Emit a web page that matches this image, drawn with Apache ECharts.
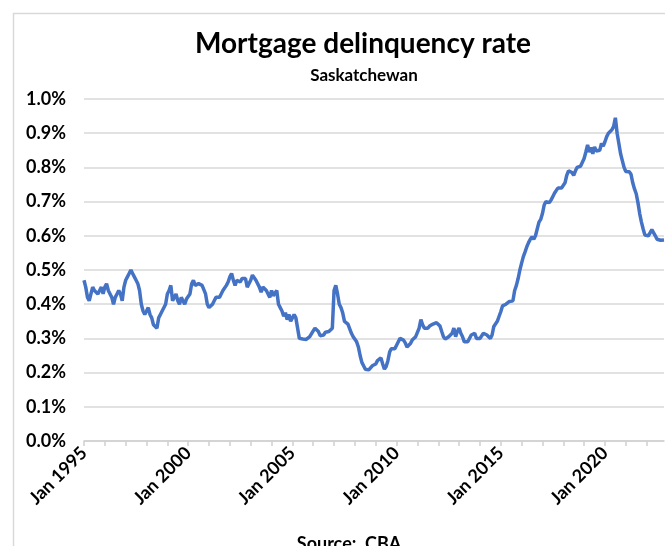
<!DOCTYPE html>
<html>
<head>
<meta charset="utf-8">
<script src="https://cdn.jsdelivr.net/npm/echarts@6/dist/echarts.min.js"></script>
<style>
  html, body { margin: 0; padding: 0; background: #fff; }
  #main { width: 665px; height: 546px; }
</style>
</head>
<body>
<div id="main"></div>
<script>
// 数据: 月度拖欠率 (%), 1995年1月起
const startYear = 1995
const monthNames = ['Jan', 'Feb', 'Mar', 'Apr', 'May', 'Jun', 'Jul', 'Aug', 'Sep', 'Oct', 'Nov', 'Dec']
const yTicks = [0, 0.1, 0.2, 0.3, 0.4, 0.5, 0.6, 0.7, 0.8, 0.9, 1.0]
const rates = [
  0.47, 0.45, 0.42, 0.41, 0.43, 0.45, 0.44, 0.44, 0.43, 0.44, 0.45, 0.43,       // 1995
  0.45, 0.46, 0.44, 0.43, 0.42, 0.40, 0.42, 0.43, 0.44, 0.43, 0.41, 0.45,       // 1996
  0.47, 0.48, 0.49, 0.50, 0.49, 0.48, 0.47, 0.46, 0.44, 0.40, 0.38, 0.37,       // 1997
  0.38, 0.39, 0.37, 0.36, 0.34, 0.335, 0.33, 0.36, 0.37, 0.38, 0.375, 0.40,     // 1998
  0.43, 0.44, 0.455, 0.41, 0.42, 0.43, 0.41, 0.40, 0.42, 0.41, 0.40, 0.415,     // 1999
  0.41, 0.43, 0.46, 0.47, 0.455, 0.46, 0.46, 0.455, 0.455, 0.45, 0.43, 0.40,    // 2000
  0.39, 0.39, 0.40, 0.41, 0.42, 0.415, 0.42, 0.43, 0.44, 0.445, 0.455, 0.465,   // 2001
  0.48, 0.49, 0.47, 0.455, 0.47, 0.475, 0.465, 0.475, 0.48, 0.475, 0.45, 0.455, // 2002
  0.47, 0.485, 0.48, 0.47, 0.465, 0.45, 0.435, 0.45, 0.455, 0.44, 0.43, 0.42,   // 2003
  0.44, 0.425, 0.43, 0.44, 0.40, 0.39, 0.38, 0.365, 0.375, 0.355, 0.37, 0.35,   // 2004
  0.36, 0.37, 0.36, 0.33, 0.30, 0.305, 0.298, 0.295, 0.297, 0.298, 0.305, 0.31, // 2005
  0.322, 0.33, 0.335, 0.32, 0.308, 0.31, 0.31, 0.318, 0.32, 0.32, 0.32, 0.33,   // 2006
  0.44, 0.455, 0.43, 0.40, 0.39, 0.374, 0.35, 0.345, 0.342, 0.34, 0.315, 0.305, // 2007
  0.303, 0.29, 0.275, 0.25, 0.23, 0.22, 0.21, 0.21, 0.208, 0.212, 0.22, 0.218,  // 2008
  0.225, 0.235, 0.24, 0.243, 0.225, 0.21, 0.218, 0.235, 0.26, 0.27, 0.275, 0.27, // 2009
  0.28, 0.29, 0.30, 0.305, 0.295, 0.287, 0.275, 0.27, 0.285, 0.295, 0.30, 0.305, // 2010
  0.31, 0.33, 0.355, 0.34, 0.33, 0.335, 0.33, 0.336, 0.34, 0.342, 0.346, 0.346, // 2011
  0.345, 0.336, 0.32, 0.305, 0.298, 0.294, 0.305, 0.31, 0.315, 0.33, 0.305, 0.32, // 2012
  0.33, 0.315, 0.305, 0.29, 0.288, 0.29, 0.295, 0.31, 0.315, 0.315, 0.30, 0.298, // 2013
  0.30, 0.305, 0.315, 0.31, 0.31, 0.305, 0.30, 0.31, 0.335, 0.34, 0.35, 0.364,  // 2014
  0.378, 0.395, 0.40, 0.40, 0.402, 0.408, 0.41, 0.41, 0.44, 0.455, 0.475, 0.50, // 2015
  0.52, 0.539, 0.553, 0.568, 0.58, 0.59, 0.597, 0.59, 0.60, 0.595, 0.64, 0.648, // 2016
  0.665, 0.69, 0.70, 0.70, 0.697, 0.705, 0.715, 0.725, 0.733, 0.74, 0.745, 0.74, // 2017
  0.742, 0.755, 0.777, 0.79, 0.788, 0.785, 0.777, 0.79, 0.80, 0.805, 0.804, 0.80, // 2018
  0.826, 0.845, 0.866, 0.845, 0.858, 0.84, 0.86, 0.848, 0.845, 0.85, 0.87, 0.862, // 2019
  0.875, 0.89, 0.90, 0.905, 0.91, 0.92, 0.945, 0.90, 0.87, 0.84, 0.82, 0.80,    // 2020
  0.788, 0.783, 0.787, 0.78, 0.755, 0.737, 0.723, 0.697, 0.665, 0.64, 0.62, 0.602, // 2021
  0.60, 0.60, 0.605, 0.618, 0.615, 0.60, 0.59, 0.59, 0.587, 0.588, 0.588        // 2022
]

// 横坐标: "Jan 1995" ...
const months = rates.map((v, i) => monthNames[i % 12] + ' ' + (startYear + Math.floor(i / 12)))

const font = 'Lato, "Liberation Sans", sans-serif'

var chartDom = document.getElementById('main')
var myChart = echarts.init(chartDom)

const option = {
  animation: false,
  title: [
    {
      text: 'Mortgage delinquency rate',
      left: 358,
      top: 25,
      textAlign: 'center',
      textStyle: { fontFamily: font, fontWeight: 'bold', fontSize: 28, color: '#000' }
    },
    {
      text: 'Saskatchewan',
      left: 359,
      top: 62,
      textAlign: 'center',
      textStyle: { fontFamily: font, fontWeight: 'bold', fontSize: 17, color: '#000' }
    },
    {
      text: 'Source:  CBA',
      left: 344,
      top: 530,
      textAlign: 'center',
      textStyle: { fontFamily: font, fontWeight: 'bold', fontSize: 18, color: '#000' }
    }
  ],
  graphic: [
    {
      type: 'rect',
      left: 11,
      top: 11,
      shape: { width: 700, height: 600 },
      style: { fill: 'none', stroke: '#d9d9d9', lineWidth: 1.5 },
      silent: true
    }
  ],
  grid: {
    left: 84,
    right: 1,
    top: 99,
    bottom: 105
  },
  xAxis: {
    type: 'category',
    data: months,
    boundaryGap: false,
    axisLine: { lineStyle: { color: '#d0d0d0', width: 1.5 } },
    axisTick: {
      interval: (idx) => idx % 12 === 0,
      length: 5,
      lineStyle: { color: '#d0d0d0', width: 1.5 }
    },
    axisLabel: {
      interval: (idx) => idx % 60 === 0,
      rotate: 45,
      margin: 9,
      fontFamily: font,
      fontWeight: 'bold',
      fontSize: 18,
      color: '#000'
    },
    splitLine: { show: false }
  },
  yAxis: {
    type: 'value',
    min: yTicks[0],
    max: yTicks[yTicks.length - 1],
    interval: 0.1,
    axisLine: { show: false },
    axisTick: { show: false },
    axisLabel: {
      margin: 18,
      fontFamily: font,
      fontWeight: 'bold',
      fontSize: 18,
      color: '#000',
      formatter: (value) => value.toFixed(1) + '%'
    },
    splitLine: { lineStyle: { color: '#d9d9d9', width: 1.5 } }
  },
  series: [
    {
      name: 'Saskatchewan',
      type: 'line',
      data: rates,
      showSymbol: false,
      lineStyle: { color: '#4472c4', width: 3.5 },
      itemStyle: { color: '#4472c4' }
    }
  ]
}

myChart.setOption(option)
</script>
</body>
</html>
